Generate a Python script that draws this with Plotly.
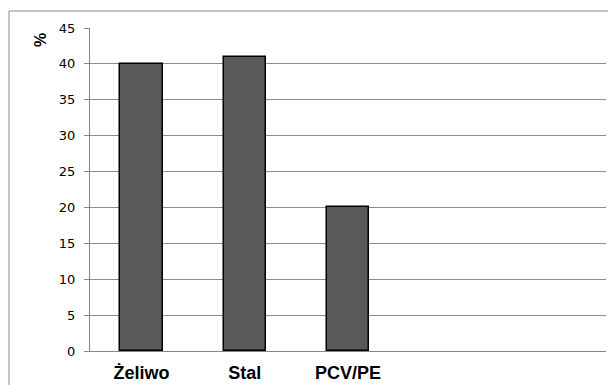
import plotly.graph_objects as go

categories = ["Żeliwo", "Stal", "PCV/PE"]
values = [40, 41, 20]
y_ticks = [0, 5, 10, 15, 20, 25, 30, 35, 40, 45]
y_title = "%"

positions = list(range(len(categories)))

fig = go.Figure()
fig.add_trace(go.Bar(
    x=positions, y=values, width=0.41,
    marker=dict(color="#595959", line=dict(color="#000000", width=1.5)),
    hoverinfo="skip",
))

# page body has an 8px margin, so the figure is drawn 8px in and down
fig.update_layout(
    width=608, height=377,
    margin=dict(l=82, r=10, t=20, b=34, autoexpand=False),
    paper_bgcolor="white", plot_bgcolor="white",
    showlegend=False,
    bargap=0,
    font=dict(family="Liberation Sans, Arial", color="black"),
    xaxis=dict(
        range=[-0.5, 4.5], tickvals=positions, ticktext=categories,
        showgrid=False, zeroline=False, automargin=False,
        showline=True, linecolor="#868686", linewidth=1,
        ticks="", tickfont=dict(size=18, family="Liberation Sans, Arial", color="black", weight="bold"),
        ticklabelstandoff=5, fixedrange=True,
    ),
    yaxis=dict(
        range=[0, 45], tickvals=y_ticks, automargin=False,
        showgrid=True, gridcolor="#8c8c8c", gridwidth=1,
        zeroline=False,
        showline=True, linecolor="#868686", linewidth=1,
        ticks="outside", ticklen=5, tickcolor="#868686",
        tickfont=dict(size=13, family="DejaVu Sans", color="black"),
        ticklabelstandoff=6, fixedrange=True,
    ),
    shapes=[dict(
        type="rect", xref="paper", yref="paper",
        x0=-81/516, x1=1.2, y0=-0.3, y1=(351-11)/323,
        line=dict(color="#8c8c8c", width=1), fillcolor="rgba(0,0,0,0)", layer="below",
    )],
    annotations=[dict(
        text="<b>" + y_title + "</b>", xref="paper", yref="paper",
        x=-49/516, y=(351-40)/323, showarrow=False, textangle=-90,
        xanchor="center", yanchor="middle",
        font=dict(size=16, family="Liberation Sans, Arial", color="black"),
    )],
)

fig.write_html("out.html")
